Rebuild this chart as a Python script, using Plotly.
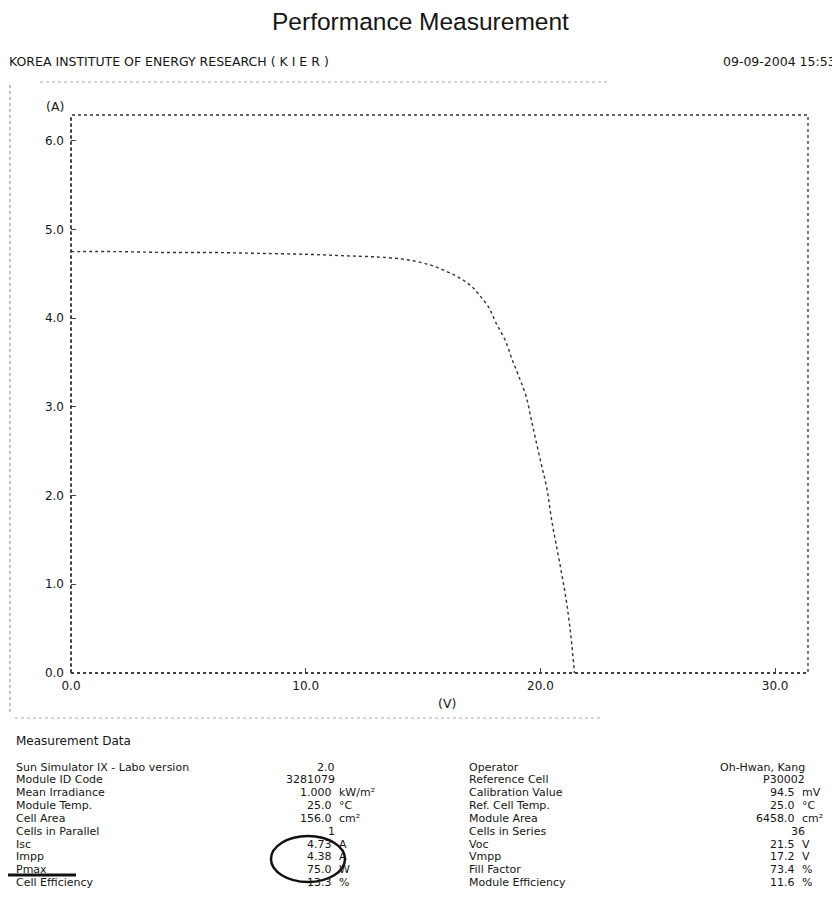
import plotly.graph_objects as go

# ---------------- data ----------------
voltage = [0, 2, 4, 6, 8, 10, 11, 12, 13, 14, 14.7, 15.3, 15.8, 16.3, 16.7, 17.1,
           17.4, 17.8, 18.1, 18.5, 18.8, 19.1, 19.4, 19.6, 19.8, 20.05, 20.26, 20.5,
           20.8, 21.1, 21.3, 21.45]
current = [4.75, 4.75, 4.74, 4.74, 4.73, 4.72, 4.71, 4.70, 4.69, 4.67, 4.64, 4.60,
           4.55, 4.49, 4.43, 4.35, 4.26, 4.12, 3.95, 3.75, 3.53, 3.33, 3.11, 2.87,
           2.63, 2.34, 2.10, 1.69, 1.27, 0.82, 0.41, 0.0]

x_ticks = [0, 10, 20, 30]
x_tick_labels = ["0.0", "10.0", "20.0", "30.0"]
y_ticks = [0, 1, 2, 3, 4, 5, 6]
y_tick_labels = ["0.0", "1.0", "2.0", "3.0", "4.0", "5.0", "6.0"]

left_labels = ["Sun Simulator IX - Labo version", "Module ID Code", "Mean Irradiance",
               "Module Temp.", "Cell Area", "Cells in Parallel", "Isc", "Impp",
               "Pmax", "Cell Efficiency"]
left_values = ["2.0", "3281079", "1.000", "25.0", "156.0", "1", "4.73", "4.38",
               "75.0", "13.3"]
left_units = ["", "", "kW/m²", "°C", "cm²", "", "A", "A", "W", "%"]

right_labels = ["Operator", "Reference Cell", "Calibration Value", "Ref. Cell Temp.",
                "Module Area", "Cells in Series", "Voc", "Vmpp", "Fill Factor",
                "Module Efficiency"]
right_values = ["Oh-Hwan, Kang", "P30002", "94.5", "25.0", "6458.0", "36", "21.5",
                "17.2", "73.4", "11.6"]
right_units = ["", "", "mV", "°C", "cm²", "", "V", "V", "%", "%"]

title_text = "Performance Measurement"
header_text = "KOREA INSTITUTE OF ENERGY RESEARCH ( K I E R )"
date_text = "09-09-2004 15:53"

# ---------------- layout geometry (page pixels) ----------------
W, H = 840, 905
OFF = 8                      # default page margin of the html body
L, R, T, B = 71, 808, 115, 673
PW, PH = R - L, B - T


def px(x):
    return (x - L) / PW


def py(y):
    return (B - y) / PH


INK = "#151515"
FONT = "Liberation Sans, Arial, sans-serif"
TFONT = "DejaVu Sans, Verdana, sans-serif"

fig = go.Figure()
fig.add_trace(go.Scatter(
    x=voltage, y=current, mode="lines",
    line=dict(color="#333333", width=1.4, dash="dot", shape="spline"),
    hoverinfo="skip", showlegend=False,
))

annotations = []


def ann(text, x, y, xanchor="left", size=12, font=TFONT, color=INK):
    annotations.append(dict(
        text=text, x=px(x), y=py(y), xref="paper", yref="paper",
        xanchor=xanchor, yanchor="middle", showarrow=False, borderpad=0,
        font=dict(family=font, size=size, color=color),
    ))


ann(title_text, 420, 22, xanchor="center", size=24.5, font=FONT)
ann(header_text, 8, 62, size=12.5, font=TFONT)
ann(date_text, 722, 62, size=12.5, font=TFONT)
ann("(A)", 55, 106, xanchor="center", size=12.5, font=TFONT)
ann("(V)", 447, 703, xanchor="center", size=12.5, font=TFONT)
ann("Measurement Data", 15, 741, size=12, font=TFONT)

row_y = [767 + i * 12.85 for i in range(len(left_labels))]
TS = 11
for i in range(len(left_labels)):
    y = row_y[i]
    ann(left_labels[i], 15, y, size=TS)
    if left_units[i]:
        ann(left_values[i], 333, y, xanchor="right", size=TS)
        ann(left_units[i], 338, y, size=TS)
    else:
        ann(left_values[i], 336, y, xanchor="right", size=TS)
    ann(right_labels[i], 468, y, size=TS)
    if right_units[i]:
        ann(right_values[i], 796, y, xanchor="right", size=TS)
        ann(right_units[i], 801, y, size=TS)
    else:
        ann(right_values[i], 806, y, xanchor="right", size=TS)

shapes = [
    # dotted plot frame
    dict(type="rect", xref="paper", yref="paper", x0=0, y0=0, x1=1, y1=1,
         line=dict(color="#333333", width=1.3, dash="dot")),
    # denser left and bottom axes
    dict(type="line", xref="paper", yref="paper", x0=0, x1=0, y0=0, y1=1,
         line=dict(color="#333333", width=1.5, dash="dot")),
    dict(type="line", xref="paper", yref="paper", x0=0, x1=1, y0=0, y1=0,
         line=dict(color="#333333", width=1.5, dash="dot")),
    # faint outer scan frame
    dict(type="line", xref="paper", yref="paper", x0=px(10), x1=px(10),
         y0=py(85), y1=py(712), line=dict(color="#888888", width=1, dash="dot")),
    dict(type="line", xref="paper", yref="paper", x0=px(40), x1=px(610),
         y0=py(82), y1=py(82), line=dict(color="#aaaaaa", width=1, dash="dot")),
    dict(type="line", xref="paper", yref="paper", x0=px(15), x1=px(600),
         y0=py(718), y1=py(718), line=dict(color="#aaaaaa", width=1, dash="dot")),
    # hand-drawn ellipse around Impp / Pmax
    dict(type="circle", xref="paper", yref="paper", x0=px(271), x1=px(345),
         y0=py(882), y1=py(836), line=dict(color="#111111", width=2.5)),
    # underline under Pmax
    dict(type="line", xref="paper", yref="paper", x0=px(5), x1=px(76),
         y0=py(875), y1=py(875), line=dict(color="#111111", width=3)),
]

fig.update_layout(
    width=W, height=H, autosize=False,
    margin=dict(l=L - OFF, r=W - (R - OFF), t=T - OFF, b=H - (B - OFF), pad=0),
    paper_bgcolor="white", plot_bgcolor="white",
    showlegend=False,
    annotations=annotations,
    shapes=shapes,
    font=dict(family=TFONT, size=11, color=INK),
)
fig.update_xaxes(
    range=[0, 31.4], tickvals=x_ticks, ticktext=x_tick_labels,
    showgrid=False, zeroline=False, showline=False,
    ticks="inside", ticklen=5, tickcolor="#444444", mirror=True,
    ticklabelstandoff=4,
    tickfont=dict(family=TFONT, size=12, color=INK),
)
fig.update_yaxes(
    range=[0, 6.29], tickvals=y_ticks, ticktext=y_tick_labels,
    showgrid=False, zeroline=False, showline=False,
    ticks="inside", ticklen=5, tickcolor="#444444", mirror=True,
    ticklabelstandoff=6,
    tickfont=dict(family=TFONT, size=12, color=INK),
)

fig.write_html("out.html")
